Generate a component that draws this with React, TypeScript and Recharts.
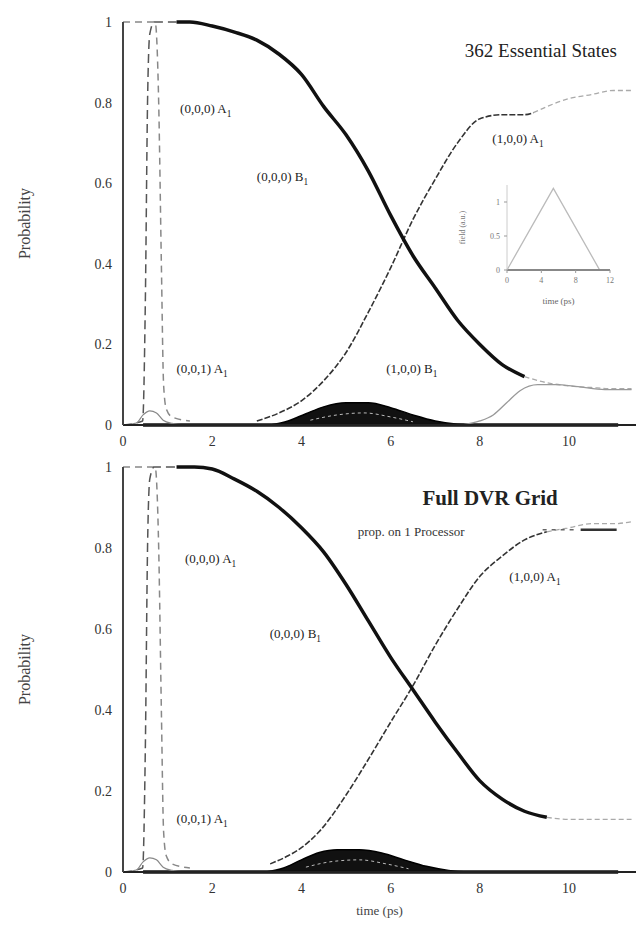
import React from 'react';
import { ComposedChart, LineChart, Line, Area, XAxis, YAxis, ReferenceDot } from 'recharts';

type Pt = { t: number; p: number };

// ---- upper panel: 362 essential states ----
const topRise: Pt[] = [
  { t: 0, p: 0 }, { t: 0.44, p: 0.01 }, { t: 0.5, p: 0.3 }, { t: 0.55, p: 0.8 },
  { t: 0.6, p: 0.97 }, { t: 0.7, p: 1 }, { t: 1.2, p: 1 },
];
const topFall: Pt[] = [
  { t: 0, p: 1 }, { t: 0.72, p: 1 }, { t: 0.8, p: 0.8 }, { t: 0.86, p: 0.4 },
  { t: 0.91, p: 0.1 }, { t: 0.97, p: 0.04 }, { t: 1.1, p: 0.02 }, { t: 1.5, p: 0.01 },
];
const topSmall: Pt[] = [
  { t: 0, p: 0 }, { t: 0.3, p: 0.005 }, { t: 0.45, p: 0.025 }, { t: 0.6, p: 0.035 },
  { t: 0.75, p: 0.03 }, { t: 0.9, p: 0.012 }, { t: 1.1, p: 0.004 }, { t: 1.4, p: 0 },
];
const topGround: Pt[] = [
  { t: 1.2, p: 1 }, { t: 1.5, p: 1 }, { t: 2, p: 0.99 }, { t: 2.5, p: 0.975 }, { t: 3, p: 0.955 },
  { t: 3.5, p: 0.92 }, { t: 4, p: 0.87 }, { t: 4.5, p: 0.79 }, { t: 5, p: 0.72 }, { t: 5.5, p: 0.63 },
  { t: 6, p: 0.52 }, { t: 6.5, p: 0.42 }, { t: 7, p: 0.34 }, { t: 7.5, p: 0.26 }, { t: 8, p: 0.2 },
  { t: 8.5, p: 0.15 }, { t: 9, p: 0.12 },
];
const topGroundTail: Pt[] = [
  { t: 9, p: 0.12 }, { t: 9.5, p: 0.105 }, { t: 10, p: 0.097 }, { t: 10.5, p: 0.093 },
  { t: 11, p: 0.09 }, { t: 11.4, p: 0.09 },
];
const topTarget: Pt[] = [
  { t: 3, p: 0.01 }, { t: 3.5, p: 0.03 }, { t: 4, p: 0.06 }, { t: 4.5, p: 0.11 }, { t: 5, p: 0.18 },
  { t: 5.5, p: 0.28 }, { t: 6, p: 0.39 }, { t: 6.5, p: 0.51 }, { t: 7, p: 0.61 }, { t: 7.5, p: 0.7 },
  { t: 8, p: 0.76 }, { t: 8.5, p: 0.77 }, { t: 9, p: 0.77 }, { t: 9.2, p: 0.775 },
];
const topTargetTail: Pt[] = [
  { t: 9.2, p: 0.775 }, { t: 9.5, p: 0.79 }, { t: 10, p: 0.81 }, { t: 10.5, p: 0.82 },
  { t: 11, p: 0.83 }, { t: 11.4, p: 0.83 },
];
const topB1: Pt[] = [
  { t: 7.6, p: 0 }, { t: 8, p: 0.01 }, { t: 8.3, p: 0.025 }, { t: 8.6, p: 0.055 }, { t: 8.9, p: 0.085 },
  { t: 9.3, p: 0.1 }, { t: 9.7, p: 0.1 }, { t: 10.2, p: 0.095 }, { t: 10.8, p: 0.088 }, { t: 11.4, p: 0.088 },
];
const topBump: Pt[] = [
  { t: 3.3, p: 0 }, { t: 3.7, p: 0.01 }, { t: 4.1, p: 0.028 }, { t: 4.5, p: 0.045 }, { t: 5, p: 0.055 },
  { t: 5.5, p: 0.055 }, { t: 6, p: 0.043 }, { t: 6.5, p: 0.025 }, { t: 7, p: 0.01 }, { t: 7.5, p: 0.002 },
  { t: 8, p: 0 },
];
const topBumpInner: Pt[] = [
  { t: 4.2, p: 0.012 }, { t: 4.8, p: 0.025 }, { t: 5.4, p: 0.03 }, { t: 6, p: 0.02 }, { t: 6.5, p: 0.008 },
];
const topBase: Pt[] = [{ t: 0.45, p: 0 }, { t: 11.1, p: 0 }];

// ---- lower panel: full DVR grid ----
const botRise: Pt[] = [
  { t: 0, p: 0 }, { t: 0.44, p: 0.01 }, { t: 0.5, p: 0.3 }, { t: 0.55, p: 0.8 },
  { t: 0.6, p: 0.97 }, { t: 0.7, p: 1 }, { t: 1.2, p: 1 },
];
const botFall: Pt[] = [
  { t: 0, p: 1 }, { t: 0.72, p: 1 }, { t: 0.8, p: 0.8 }, { t: 0.86, p: 0.4 },
  { t: 0.91, p: 0.1 }, { t: 0.97, p: 0.04 }, { t: 1.1, p: 0.02 }, { t: 1.5, p: 0.01 },
];
const botSmall: Pt[] = [
  { t: 0, p: 0 }, { t: 0.3, p: 0.005 }, { t: 0.45, p: 0.025 }, { t: 0.6, p: 0.035 },
  { t: 0.75, p: 0.03 }, { t: 0.9, p: 0.012 }, { t: 1.1, p: 0.004 }, { t: 1.4, p: 0 },
];
const botGround: Pt[] = [
  { t: 1.2, p: 1 }, { t: 1.6, p: 1 }, { t: 2, p: 0.995 }, { t: 2.5, p: 0.97 }, { t: 3, p: 0.94 },
  { t: 3.5, p: 0.9 }, { t: 4, p: 0.85 }, { t: 4.5, p: 0.79 }, { t: 5, p: 0.71 }, { t: 5.5, p: 0.62 },
  { t: 6, p: 0.53 }, { t: 6.5, p: 0.45 }, { t: 7, p: 0.37 }, { t: 7.5, p: 0.295 }, { t: 8, p: 0.225 },
  { t: 8.5, p: 0.18 }, { t: 9, p: 0.15 }, { t: 9.5, p: 0.135 },
];
const botGroundTail: Pt[] = [
  { t: 9.5, p: 0.135 }, { t: 10, p: 0.13 }, { t: 10.5, p: 0.13 }, { t: 11, p: 0.13 }, { t: 11.4, p: 0.13 },
];
const botTarget: Pt[] = [
  { t: 3.3, p: 0.02 }, { t: 3.7, p: 0.04 }, { t: 4, p: 0.06 }, { t: 4.4, p: 0.1 }, { t: 5, p: 0.19 },
  { t: 5.4, p: 0.26 }, { t: 6, p: 0.37 }, { t: 6.5, p: 0.46 }, { t: 7, p: 0.56 }, { t: 7.5, p: 0.65 },
  { t: 8, p: 0.73 }, { t: 8.5, p: 0.78 }, { t: 9, p: 0.82 }, { t: 9.5, p: 0.84 },
];
const botTargetTail: Pt[] = [
  { t: 9.5, p: 0.84 }, { t: 10, p: 0.85 }, { t: 10.5, p: 0.86 }, { t: 11, p: 0.86 }, { t: 11.4, p: 0.865 },
];
const botBump: Pt[] = [
  { t: 3.2, p: 0 }, { t: 3.6, p: 0.01 }, { t: 4, p: 0.03 }, { t: 4.4, p: 0.048 }, { t: 4.8, p: 0.055 },
  { t: 5.3, p: 0.055 }, { t: 5.8, p: 0.047 }, { t: 6.3, p: 0.03 }, { t: 6.8, p: 0.014 }, { t: 7.3, p: 0.004 },
  { t: 7.8, p: 0 },
];
const botBumpInner: Pt[] = [
  { t: 4.1, p: 0.012 }, { t: 4.7, p: 0.026 }, { t: 5.3, p: 0.03 }, { t: 5.9, p: 0.02 }, { t: 6.4, p: 0.008 },
];
const botBase: Pt[] = [{ t: 0.45, p: 0 }, { t: 11.1, p: 0 }];

// inset: pulse envelope
const pulseTime = [0, 5.4, 10.8, 12];
const pulseField = [0, 1.2, 0, 0];

const xTicks = [0, 2, 4, 6, 8, 10];
const yTicks = [0, 0.2, 0.4, 0.6, 0.8, 1];

const FONT = '"Liberation Serif", "DejaVu Serif", serif';

const buildRows = (series: Record<string, Pt[]>) => {
  const map = new Map<number, Record<string, number>>();
  Object.entries(series).forEach(([key, pts]) => {
    pts.forEach(({ t, p }) => {
      const row = map.get(t) ?? { t };
      row[key] = p;
      map.set(t, row);
    });
  });
  return [...map.values()].sort((a, b) => a.t - b.t);
};

const fmtY = (v: number) => (v === 0 ? '0' : v === 1 ? '1' : v.toFixed(1));

const Tag = (props: any) => {
  const { viewBox, text, sub, size = 13, anchor = 'start', weight = 'normal' } = props;
  return (
    <text x={viewBox.x} y={viewBox.y} fontSize={size} textAnchor={anchor} fontWeight={weight} fill="#222" fontFamily={FONT}>
      {text}
      {sub && <tspan dy={4} fontSize={size * 0.72}>{sub}</tspan>}
    </text>
  );
};

const LegendTag = (props: any) => {
  const { x, y } = props.viewBox;
  return (
    <g>
      <text x={x} y={y} fontSize={13} fill="#333" fontFamily={FONT}>prop. on 1 Processor</text>
      <line x1={x + 185} x2={x + 221} y1={y - 6} y2={y - 6} stroke="#666" strokeWidth={1.5} strokeDasharray="4 5" />
      <line x1={x + 223} x2={x + 259} y1={y - 6} y2={y - 6} stroke="#333" strokeWidth={2.5} />
    </g>
  );
};

const Panel = ({ rows, height, xLabel, children }: any) => (
  <ComposedChart width={641} height={height} data={rows} margin={{ top: 22, right: 5, bottom: 0, left: 0 }}>
    <XAxis
      dataKey="t" type="number" domain={[0, 11.5]} ticks={xTicks} allowDataOverflow
      height={xLabel ? 53 : 25} tickSize={0} tickMargin={11}
      tick={{ fontSize: 14, fill: '#333', fontFamily: FONT }}
      axisLine={{ stroke: '#222', strokeWidth: 2 }}
      label={xLabel ? { value: xLabel, position: 'insideBottom', offset: 10, fontSize: 13, fill: '#444', fontFamily: FONT } : undefined}
    />
    <XAxis xAxisId="top" orientation="top" dataKey="t" type="number" domain={[0, 11.5]} ticks={xTicks}
      height={0} mirror tick={false} tickSize={5} tickLine={{ stroke: '#888' }} axisLine={{ stroke: '#aaa', strokeWidth: 2 }} />
    <YAxis
      type="number" domain={[0, 1]} ticks={yTicks} width={123} tickSize={0} tickMargin={11}
      tickFormatter={fmtY} tick={{ fontSize: 14, fill: '#333', fontFamily: FONT }}
      axisLine={{ stroke: '#444', strokeWidth: 2 }}
      label={{ value: 'Probability', angle: -90, position: 'insideLeft', offset: 24, fontSize: 16, fill: '#444', fontFamily: FONT, style: { textAnchor: 'middle' } }}
    />
    <YAxis yAxisId="right" orientation="right" type="number" domain={[0, 1]} ticks={yTicks} width={0}
      mirror tick={false} tickSize={5} tickLine={{ stroke: '#999' }} axisLine={{ stroke: '#ccc', strokeWidth: 1.5 }} />
    {children}
  </ComposedChart>
);

const seriesLines = (prefix: string) => [
  <Area key="bump" type="monotone" dataKey={`${prefix}Bump`} fill="#111" stroke="#000" strokeWidth={1.5} fillOpacity={1} connectNulls dot={false} activeDot={false} isAnimationActive={false} />,
  <Line key="inner" type="monotone" dataKey={`${prefix}BumpInner`} stroke="#bbb" strokeWidth={1} strokeDasharray="3 3" connectNulls dot={false} activeDot={false} isAnimationActive={false} />,
  <Line key="base" dataKey={`${prefix}Base`} stroke="#111" strokeWidth={3.5} connectNulls dot={false} activeDot={false} isAnimationActive={false} />,
  <Line key="fall" type="monotone" dataKey={`${prefix}Fall`} stroke="#888" strokeWidth={1.5} strokeDasharray="7 5" connectNulls dot={false} activeDot={false} isAnimationActive={false} />,
  <Line key="rise" type="monotone" dataKey={`${prefix}Rise`} stroke="#555" strokeWidth={1.5} strokeDasharray="9 5" connectNulls dot={false} activeDot={false} isAnimationActive={false} />,
  <Line key="small" type="monotone" dataKey={`${prefix}Small`} stroke="#888" strokeWidth={1.2} connectNulls dot={false} activeDot={false} isAnimationActive={false} />,
  <Line key="gtail" type="monotone" dataKey={`${prefix}GroundTail`} stroke="#aaa" strokeWidth={1.3} strokeDasharray="5 3" connectNulls dot={false} activeDot={false} isAnimationActive={false} />,
  <Line key="ttail" type="monotone" dataKey={`${prefix}TargetTail`} stroke="#aaa" strokeWidth={1.3} strokeDasharray="5 3" connectNulls dot={false} activeDot={false} isAnimationActive={false} />,
  <Line key="target" type="monotone" dataKey={`${prefix}Target`} stroke="#333" strokeWidth={1.6} strokeDasharray="6 2" connectNulls dot={false} activeDot={false} isAnimationActive={false} />,
  <Line key="ground" type="monotone" dataKey={`${prefix}Ground`} stroke="#111" strokeWidth={3.5} connectNulls dot={false} activeDot={false} isAnimationActive={false} />,
];

const topRows = buildRows({
  topRise, topFall, topSmall, topGround, topGroundTail, topTarget, topTargetTail, topB1, topBump, topBumpInner, topBase,
});
const botRows = buildRows({
  botRise, botFall, botSmall, botGround, botGroundTail, botTarget, botTargetTail, botBump, botBumpInner, botBase,
});
const pulseRows = pulseTime.map((t, i) => ({ t, e: pulseField[i] }));

const dot0 = { r: 0, fill: 'none', stroke: 'none' };

export default function App() {
  return (
    <div style={{ position: 'absolute', left: 0, top: 0, width: 641, height: 925, background: '#fff', fontFamily: FONT }}>
      <div style={{ position: 'absolute', left: 0, top: 0 }}>
        <Panel rows={topRows} height={450}>
          {seriesLines('top')}
          <Line type="monotone" dataKey="topB1" stroke="#999" strokeWidth={1.3} connectNulls dot={false} activeDot={false} isAnimationActive={false} />
          <ReferenceDot x={11.07} y={0.913} {...dot0} label={<Tag text="362 Essential States" size={19} anchor="end" />} />
          <ReferenceDot x={1.28} y={0.775} {...dot0} label={<Tag text="(0,0,0) A" sub="1" />} />
          <ReferenceDot x={3.0} y={0.605} {...dot0} label={<Tag text="(0,0,0) B" sub="1" />} />
          <ReferenceDot x={8.28} y={0.7} {...dot0} label={<Tag text="(1,0,0) A" sub="1" />} />
          <ReferenceDot x={1.2} y={0.13} {...dot0} label={<Tag text="(0,0,1) A" sub="1" />} />
          <ReferenceDot x={5.9} y={0.13} {...dot0} label={<Tag text="(1,0,0) B" sub="1" />} />
        </Panel>
      </div>
      <div style={{ position: 'absolute', left: 440, top: 175 }}>
        <LineChart width={180} height={135} data={pulseRows} margin={{ top: 10, right: 10, bottom: 0, left: 0 }}>
          <XAxis dataKey="t" type="number" domain={[0, 12]} ticks={[0, 4, 8, 12]} height={40} tickSize={3}
            tickMargin={4} tick={{ fontSize: 8, fill: '#777' }} tickLine={{ stroke: '#999' }}
            axisLine={{ stroke: '#888', strokeWidth: 2 }}
            label={{ value: 'time (ps)', position: 'insideBottom', offset: 6, fontSize: 9, fill: '#666' }} />
          <XAxis xAxisId="top" orientation="top" dataKey="t" type="number" domain={[0, 12]} height={0} mirror
            tick={false} tickLine={false} axisLine={{ stroke: '#ddd' }} />
          <YAxis type="number" domain={[0, 1.25]} ticks={[0, 0.5, 1]} width={67} tickSize={3} tickMargin={4}
            tick={{ fontSize: 8, fill: '#777' }} tickLine={{ stroke: '#999' }} axisLine={{ stroke: '#ccc' }}
            label={{ value: 'field (a.u.)', angle: -90, position: 'insideLeft', offset: 22, fontSize: 8, fill: '#777', style: { textAnchor: 'middle' } }} />
          <YAxis yAxisId="right" orientation="right" type="number" domain={[0, 1.25]} width={0} mirror
            tick={false} tickLine={false} axisLine={{ stroke: '#ddd' }} />
          <Line dataKey="e" stroke="#bbb" strokeWidth={1.3} dot={false} activeDot={false} isAnimationActive={false} />
        </LineChart>
      </div>
      <div style={{ position: 'absolute', left: 0, top: 445 }}>
        <Panel rows={botRows} height={480} xLabel="time (ps)">
          {seriesLines('bot')}
          <ReferenceDot x={8.23} y={0.906} {...dot0} label={<Tag text="Full DVR Grid" size={21} anchor="middle" weight="bold" />} />
          <ReferenceDot x={5.26} y={0.83} {...dot0} label={<LegendTag />} />
          <ReferenceDot x={1.39} y={0.763} {...dot0} label={<Tag text="(0,0,0) A" sub="1" />} />
          <ReferenceDot x={3.29} y={0.578} {...dot0} label={<Tag text="(0,0,0) B" sub="1" />} />
          <ReferenceDot x={8.66} y={0.718} {...dot0} label={<Tag text="(1,0,0) A" sub="1" />} />
          <ReferenceDot x={1.2} y={0.121} {...dot0} label={<Tag text="(0,0,1) A" sub="1" />} />
        </Panel>
      </div>
    </div>
  );
}
